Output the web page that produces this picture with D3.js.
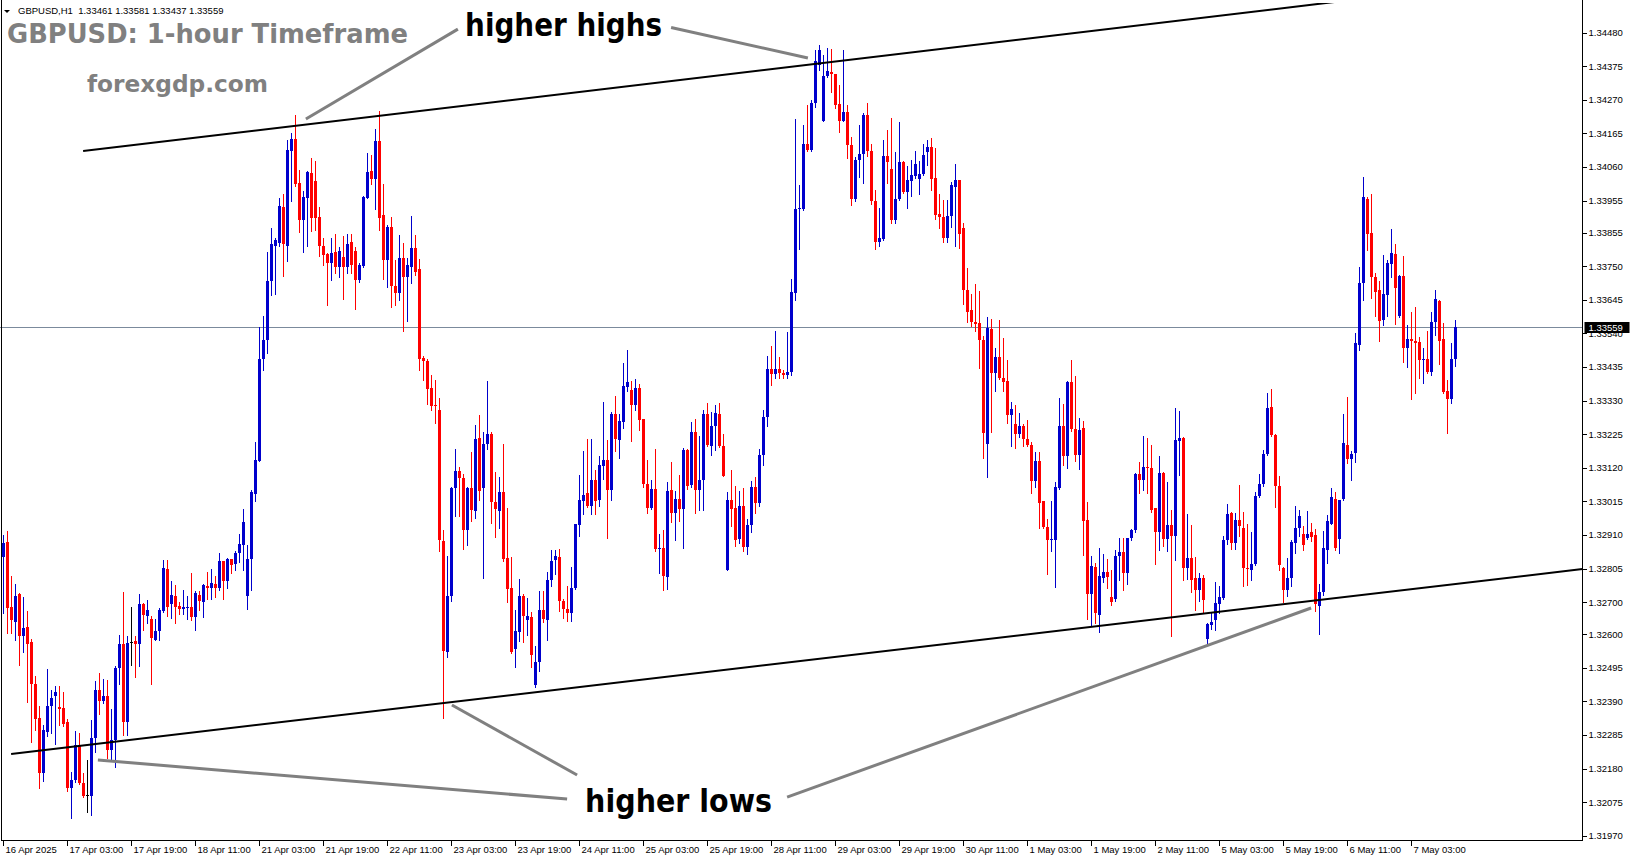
<!DOCTYPE html>
<html><head><meta charset="utf-8">
<script src="https://cdn.jsdelivr.net/npm/d3@7"></script>
<style>html,body{margin:0;padding:0;background:#fff;overflow:hidden}</style>
</head><body>
<svg id="chart" width="1631" height="861"></svg>
<script>
// ---------------- DATA ----------------
const symbolName = "GBPUSD,H1";
const lastBar = [1.33461, 1.33581, 1.33437, 1.33559];
const currentPrice = 1.33559;

const openP = [
1.32841,1.32888,1.32685,1.32637,1.32726,1.32596,1.32623,1.32576,1.32446,1.32339,
1.32165,1.32293,1.32375,1.32406,1.32372,1.32369,1.32327,1.32119,1.32144,1.32251,
1.32135,1.32098,1.32096,1.32275,1.32427,1.32392,1.32408,1.32239,1.32269,1.32493,
1.32570,1.32327,1.32577,1.32580,1.32570,1.32695,1.32657,1.32648,1.32583,1.32611,
1.32674,1.32804,1.32693,1.32720,1.32689,1.32680,1.32682,1.32686,1.32654,1.32723,
1.32702,1.32751,1.32745,1.32758,1.32743,1.32830,1.32766,1.32834,1.32819,1.32855,
1.32880,1.32718,1.32834,1.33037,1.33142,1.33459,1.33518,1.33703,1.33814,1.33822,
1.33936,1.33814,1.34110,1.34149,1.34010,1.33896,1.33964,1.34042,1.34017,1.33905,
1.33814,1.33788,1.33759,1.33793,1.33748,1.33778,1.33748,1.33826,1.33799,1.33706,
1.33750,1.33964,1.34048,1.34024,1.34140,1.33909,1.33770,1.33873,1.33689,1.33667,
1.33777,1.33716,1.33749,1.33808,1.33742,1.33463,1.33453,1.33369,1.33316,1.33300,
1.32891,1.32545,1.32718,1.33056,1.33111,1.33089,1.32925,1.33058,1.32986,1.33213,
1.33058,1.33196,1.33225,1.33012,1.32984,1.33043,1.32839,1.32745,1.32554,1.32607,
1.32720,1.32646,1.32655,1.32440,1.32512,1.32677,1.32646,1.32769,1.32832,1.32841,
1.32703,1.32680,1.32665,1.32743,1.32941,1.33015,1.33040,1.33000,1.33083,1.33021,
1.33125,1.33146,1.33050,1.33289,1.33208,1.33262,1.33374,1.33364,1.33315,1.33370,
1.33273,1.33071,1.32994,1.33055,1.32865,1.32871,1.32780,1.33052,1.32979,1.33024,
1.32990,1.33177,1.33065,1.33233,1.33050,1.33083,1.33289,1.33189,1.33252,1.33289,
1.33189,1.32802,1.33018,1.32993,1.32899,1.33002,1.32872,1.32940,1.33060,1.33010,
1.33160,1.33280,1.33430,1.33412,1.33428,1.33415,1.33410,1.33420,1.33666,1.33928,
1.33930,1.34133,1.34114,1.34259,1.34379,1.34203,1.34343,1.34357,1.34351,1.34257,
1.34205,1.34232,1.34130,1.33959,1.34081,1.34102,1.34222,1.34109,1.33953,1.33826,
1.33835,1.34095,1.34055,1.33894,1.33961,1.34075,1.33981,1.34016,1.34031,1.34023,
1.34038,1.34107,1.34124,1.34026,1.33914,1.33904,1.33839,1.33908,1.33999,1.34018,
1.33870,1.33675,1.33612,1.33577,1.33573,1.33521,1.33196,1.33554,1.33417,1.33467,
1.33402,1.33390,1.33286,1.33257,1.33225,1.33252,1.33209,1.33192,1.33080,1.33142,
1.33015,1.32936,1.32893,1.32895,1.33057,1.33250,1.33157,1.33388,1.33242,1.33161,
1.33246,1.32957,1.32726,1.32810,1.32660,1.32776,1.32793,1.32715,1.32709,1.32844,
1.32858,1.32790,1.32900,1.32925,1.33102,1.33081,1.33123,1.33120,1.32995,1.32919,
1.33104,1.32898,1.32942,1.32906,1.33204,1.33212,1.32806,1.32838,1.32775,1.32738,
1.32777,1.32584,1.32628,1.32646,1.32696,1.32713,1.32896,1.32979,1.32885,1.32956,
1.32933,1.32808,1.32802,1.32819,1.33031,1.33069,1.33162,1.33310,1.33222,1.33062,
1.32808,1.32738,1.32775,1.32885,1.32931,1.32912,1.32901,1.32918,1.32910,1.32687,
1.32731,1.32862,1.32945,1.33024,1.32897,1.33022,1.33192,1.33149,1.33165,1.33504,
1.33698,1.33960,1.33854,1.33717,1.33675,1.33583,1.33660,1.33758,1.33787,1.33596,
1.33719,1.33496,1.33523,1.33517,1.33513,1.33457,1.33461,1.33421,1.33575,1.33642,
1.33523,1.33361,1.33334,1.33461];

const highP = [
1.32910,1.32923,1.32782,1.32757,1.32730,1.32716,1.32673,1.32586,1.32471,1.32377,
1.32317,1.32492,1.32427,1.32437,1.32437,1.32420,1.32335,1.32169,1.32299,1.32291,
1.32167,1.32208,1.32333,1.32454,1.32479,1.32460,1.32458,1.32366,1.32502,1.32597,
1.32733,1.32593,1.32685,1.32593,1.32726,1.32697,1.32707,1.32656,1.32647,1.32681,
1.32832,1.32832,1.32767,1.32754,1.32701,1.32737,1.32720,1.32792,1.32734,1.32734,
1.32758,1.32794,1.32804,1.32781,1.32855,1.32830,1.32838,1.32836,1.32859,1.32912,
1.32990,1.32878,1.33050,1.33201,1.33560,1.33596,1.33795,1.33871,1.33839,1.33962,
1.33976,1.34145,1.34167,1.34224,1.34050,1.33985,1.34048,1.34088,1.34078,1.33934,
1.33837,1.33790,1.33837,1.33850,1.33810,1.33845,1.33850,1.33850,1.33810,1.33760,
1.33970,1.34105,1.34097,1.34180,1.34235,1.34007,1.33880,1.33904,1.33770,1.33849,
1.33823,1.33777,1.33906,1.33849,1.33773,1.33470,1.33459,1.33409,1.33396,1.33339,
1.32927,1.32845,1.33060,1.33179,1.33122,1.33100,1.33060,1.33168,1.33255,1.33286,
1.33231,1.33391,1.33233,1.33108,1.33091,1.33196,1.32994,1.32841,1.32677,1.32773,
1.32725,1.32712,1.32668,1.32563,1.32736,1.32736,1.32793,1.32863,1.32863,1.32867,
1.32710,1.32750,1.32809,1.32943,1.33099,1.33172,1.33211,1.33211,1.33114,1.33158,
1.33327,1.33208,1.33296,1.33345,1.33289,1.33447,1.33489,1.33391,1.33397,1.33381,
1.33273,1.33144,1.33081,1.33180,1.32912,1.32927,1.33077,1.33139,1.33049,1.33099,
1.33181,1.33180,1.33264,1.33272,1.33220,1.33302,1.33324,1.33296,1.33316,1.33324,
1.33227,1.33043,1.33114,1.33062,1.33049,1.33058,1.32960,1.33080,1.33090,1.33180,
1.33300,1.33470,1.33500,1.33549,1.33466,1.33425,1.33544,1.33709,1.34209,1.34005,
1.34190,1.34253,1.34271,1.34426,1.34442,1.34411,1.34433,1.34429,1.34351,1.34317,
1.34426,1.34255,1.34155,1.34090,1.34192,1.34228,1.34260,1.34132,1.33988,1.33932,
1.34144,1.34176,1.34213,1.34107,1.34201,1.34078,1.34062,1.34083,1.34111,1.34080,
1.34132,1.34144,1.34151,1.34118,1.33976,1.33956,1.33958,1.34014,1.34068,1.34020,
1.33885,1.33745,1.33662,1.33696,1.33673,1.33533,1.33592,1.33585,1.33494,1.33583,
1.33527,1.33458,1.33327,1.33315,1.33292,1.33257,1.33269,1.33200,1.33171,1.33171,
1.33015,1.32961,1.33015,1.33076,1.33338,1.33319,1.33390,1.33456,1.33406,1.33275,
1.33267,1.33013,1.32845,1.32824,1.32870,1.32851,1.32834,1.32802,1.32863,1.32901,
1.32901,1.32902,1.32930,1.33104,1.33137,1.33220,1.33213,1.33191,1.32995,1.33158,
1.33108,1.33075,1.32987,1.33308,1.33297,1.33215,1.32975,1.32942,1.32842,1.32792,
1.32786,1.32636,1.32671,1.32763,1.32752,1.32908,1.33008,1.32981,1.32979,1.33066,
1.32983,1.32944,1.32921,1.33046,1.33102,1.33177,1.33355,1.33366,1.33225,1.33093,
1.32810,1.32838,1.32896,1.33000,1.32989,1.32937,1.32984,1.32949,1.32930,1.32756,
1.32922,1.32972,1.33057,1.33043,1.33020,1.33288,1.33340,1.33174,1.33542,1.33748,
1.34029,1.33966,1.33977,1.33729,1.33704,1.33785,1.33771,1.33866,1.33821,1.33722,
1.33783,1.33567,1.33608,1.33623,1.33529,1.33496,1.33548,1.33608,1.33675,1.33645,
1.33573,1.33394,1.33511,1.33581];

const lowP = [
1.32666,1.32603,1.32603,1.32581,1.32503,1.32543,1.32387,1.32262,1.32302,1.32119,
1.32140,1.32281,1.32291,1.32258,1.32317,1.32314,1.32109,1.32025,1.32139,1.32133,
1.32092,1.32044,1.32035,1.32231,1.32352,1.32385,1.32212,1.32211,1.32185,1.32443,
1.32286,1.32286,1.32505,1.32467,1.32502,1.32614,1.32636,1.32446,1.32582,1.32583,
1.32668,1.32657,1.32651,1.32636,1.32662,1.32662,1.32647,1.32644,1.32614,1.32675,
1.32654,1.32711,1.32709,1.32716,1.32737,1.32709,1.32743,1.32792,1.32802,1.32827,
1.32802,1.32678,1.32737,1.33015,1.33142,1.33425,1.33478,1.33660,1.33662,1.33814,
1.33721,1.33765,1.33953,1.34002,1.33858,1.33793,1.33814,1.33860,1.33862,1.33782,
1.33753,1.33628,1.33706,1.33729,1.33715,1.33647,1.33729,1.33729,1.33615,1.33700,
1.33748,1.33962,1.34008,1.33930,1.33862,1.33709,1.33685,1.33624,1.33630,1.33643,
1.33549,1.33580,1.33698,1.33722,1.33426,1.33396,1.33319,1.33301,1.33260,1.32859,
1.32338,1.32528,1.32705,1.32970,1.32970,1.32867,1.32880,1.32955,1.32964,1.33019,
1.32777,1.33179,1.32948,1.32905,1.32933,1.32828,1.32701,1.32541,1.32497,1.32580,
1.32576,1.32598,1.32499,1.32436,1.32484,1.32637,1.32582,1.32751,1.32787,1.32672,
1.32650,1.32640,1.32640,1.32740,1.32906,1.32977,1.32998,1.32976,1.32975,1.33000,
1.33085,1.32902,1.33021,1.33172,1.33152,1.33243,1.33359,1.33203,1.33300,1.33239,
1.33060,1.32979,1.32990,1.32860,1.32790,1.32738,1.32742,1.32950,1.32896,1.32955,
1.32868,1.33053,1.33060,1.32978,1.32988,1.32988,1.33189,1.33160,1.33177,1.33185,
1.33094,1.32800,1.32938,1.32877,1.32886,1.32859,1.32850,1.32920,1.32980,1.33000,
1.33130,1.33250,1.33380,1.33400,1.33400,1.33400,1.33400,1.33410,1.33646,1.33805,
1.33927,1.34109,1.34110,1.34249,1.34362,1.34203,1.34340,1.34296,1.34246,1.34168,
1.34205,1.34088,1.33941,1.33955,1.34028,1.34009,1.34093,1.33945,1.33804,1.33812,
1.33833,1.34009,1.33885,1.33885,1.33956,1.33978,1.33932,1.33969,1.34026,1.33976,
1.34036,1.34065,1.33987,1.33899,1.33870,1.33827,1.33825,1.33874,1.33814,1.33808,
1.33631,1.33577,1.33562,1.33548,1.33433,1.33151,1.33090,1.33232,1.33359,1.33398,
1.33359,1.33261,1.33188,1.33182,1.33215,1.33188,1.33188,1.33040,1.33061,1.32932,
1.32932,1.32789,1.32859,1.32749,1.33055,1.33128,1.33119,1.33236,1.33140,1.33115,
1.32847,1.32649,1.32626,1.32635,1.32606,1.32764,1.32743,1.32690,1.32704,1.32771,
1.32738,1.32756,1.32895,1.32921,1.33041,1.33052,1.33041,1.32981,1.32821,1.32863,
1.32875,1.32860,1.32594,1.32833,1.33098,1.32771,1.32773,1.32731,1.32675,1.32704,
1.32667,1.32568,1.32615,1.32613,1.32667,1.32709,1.32883,1.32865,1.32865,1.32908,
1.32752,1.32754,1.32769,1.32817,1.33029,1.33064,1.33160,1.33220,1.32998,1.32800,
1.32702,1.32721,1.32752,1.32854,1.32907,1.32864,1.32897,1.32891,1.32672,1.32600,
1.32724,1.32824,1.32943,1.32862,1.32853,1.33020,1.33136,1.33082,1.33138,1.33488,
1.33646,1.33802,1.33652,1.33594,1.33515,1.33565,1.33596,1.33717,1.33571,1.33592,
1.33450,1.33436,1.33334,1.33355,1.33402,1.33384,1.33415,1.33409,1.33534,1.33446,
1.33353,1.33228,1.33323,1.33437];

const closeP = [
1.32886,1.32683,1.32643,1.32720,1.32596,1.32620,1.32571,1.32446,1.32336,1.32165,
1.32302,1.32377,1.32402,1.32420,1.32366,1.32321,1.32119,1.32146,1.32254,1.32135,
1.32096,1.32098,1.32277,1.32427,1.32392,1.32408,1.32237,1.32269,1.32495,1.32570,
1.32327,1.32573,1.32577,1.32570,1.32695,1.32661,1.32675,1.32587,1.32611,1.32677,
1.32807,1.32685,1.32722,1.32685,1.32680,1.32685,1.32686,1.32654,1.32728,1.32705,
1.32754,1.32745,1.32760,1.32743,1.32830,1.32766,1.32834,1.32815,1.32855,1.32882,
1.32950,1.32834,1.33043,1.33145,1.33461,1.33520,1.33705,1.33820,1.33831,1.33938,
1.33818,1.34112,1.34149,1.34006,1.33896,1.33966,1.34044,1.33900,1.33902,1.33812,
1.33786,1.33759,1.33791,1.33748,1.33799,1.33748,1.33818,1.33755,1.33706,1.33755,
1.33966,1.34046,1.34023,1.34140,1.33902,1.33770,1.33873,1.33689,1.33667,1.33777,
1.33716,1.33755,1.33808,1.33733,1.33461,1.33453,1.33365,1.33314,1.33312,1.32896,
1.32549,1.32720,1.33058,1.33111,1.33087,1.32927,1.33056,1.32988,1.33211,1.33049,
1.33196,1.33227,1.33012,1.32990,1.33043,1.32834,1.32740,1.32545,1.32609,1.32720,
1.32657,1.32657,1.32534,1.32512,1.32677,1.32648,1.32771,1.32828,1.32844,1.32703,
1.32680,1.32665,1.32745,1.32943,1.33018,1.33036,1.33000,1.33083,1.33015,1.33130,
1.33146,1.33050,1.33289,1.33211,1.33265,1.33376,1.33387,1.33315,1.33370,1.33270,
1.33069,1.32994,1.33055,1.32865,1.32871,1.32782,1.33049,1.32979,1.33024,1.32990,
1.33177,1.33062,1.33231,1.33052,1.33083,1.33289,1.33191,1.33252,1.33292,1.33187,
1.33096,1.33018,1.32990,1.32896,1.33002,1.32872,1.32940,1.33060,1.33010,1.33160,
1.33280,1.33430,1.33412,1.33428,1.33415,1.33410,1.33418,1.33668,1.33930,1.33933,
1.34133,1.34114,1.34261,1.34392,1.34426,1.34345,1.34361,1.34350,1.34255,1.34205,
1.34232,1.34128,1.33959,1.34083,1.34102,1.34222,1.34109,1.33953,1.33826,1.33837,
1.34095,1.34075,1.33894,1.33961,1.34075,1.33981,1.34021,1.34036,1.34071,1.34039,
1.34099,1.34124,1.34024,1.33910,1.33904,1.33839,1.33908,1.34004,1.34018,1.33852,
1.33675,1.33608,1.33575,1.33569,1.33519,1.33228,1.33558,1.33417,1.33467,1.33402,
1.33388,1.33284,1.33304,1.33225,1.33252,1.33209,1.33192,1.33080,1.33142,1.33011,
1.32936,1.32893,1.32899,1.33059,1.33252,1.33157,1.33388,1.33240,1.33161,1.33238,
1.32955,1.32726,1.32812,1.32666,1.32782,1.32793,1.32778,1.32700,1.32846,1.32858,
1.32790,1.32900,1.32927,1.33102,1.33081,1.33123,1.33118,1.32989,1.32919,1.33104,
1.32898,1.32942,1.32906,1.33206,1.33212,1.32806,1.32838,1.32771,1.32738,1.32777,
1.32707,1.32631,1.32638,1.32698,1.32715,1.32896,1.32977,1.32885,1.32956,1.32937,
1.32806,1.32806,1.32821,1.33031,1.33071,1.33164,1.33308,1.33222,1.33062,1.32817,
1.32738,1.32777,1.32887,1.32933,1.32969,1.32878,1.32912,1.32905,1.32693,1.32731,
1.32868,1.32953,1.33028,1.32868,1.33018,1.33199,1.33149,1.33163,1.33511,1.33698,
1.33966,1.33852,1.33717,1.33671,1.33579,1.33662,1.33760,1.33791,1.33683,1.33719,
1.33496,1.33523,1.33517,1.33509,1.33457,1.33461,1.33419,1.33575,1.33648,1.33517,
1.33357,1.33336,1.33461,1.33559];

// time axis labels: [bar index, text]
const timeLabelIdx = [0,16,32,48,64,80,96,112,128,144,160,176,192,208,224,240,256,272,288,304,320,336,352];
const timeLabelTxt = ["16 Apr 2025","17 Apr 03:00","17 Apr 19:00","18 Apr 11:00","21 Apr 03:00","21 Apr 19:00",
  "22 Apr 11:00","23 Apr 03:00","23 Apr 19:00","24 Apr 11:00","25 Apr 03:00","25 Apr 19:00","28 Apr 11:00",
  "29 Apr 03:00","29 Apr 19:00","30 Apr 11:00","1 May 03:00","1 May 19:00","2 May 11:00","5 May 03:00",
  "5 May 19:00","6 May 11:00","7 May 03:00"];

const priceTicks = [1.34480,1.34375,1.34270,1.34165,1.34060,1.33955,1.33855,1.33750,1.33645,1.33540,
  1.33435,1.33330,1.33225,1.33120,1.33015,1.32910,1.32805,1.32700,1.32600,1.32495,1.32390,1.32285,
  1.32180,1.32075,1.31970];

// channel trend lines (rays): [barIndex, price] anchor pairs
const upperLine = [[19.9, 1.34110], [332.9, 1.34576]];
const lowerLine = [[1.9, 1.32226], [326.9, 1.32704]];

// grey pointer lines: [barIndex, price] pairs
const pointerLines = [
  [[113.6, 1.34491], [75.6, 1.34210]],
  [[166.9, 1.34496], [201.1, 1.34401]],
  [[112.1, 1.32379], [143.4, 1.32160]],
  [[23.6, 1.32207], [140.9, 1.32085]],
  [[195.9, 1.32091], [326.9, 1.32682]]
];
// annotation words: [barIndex, price, text]
const annotations = [[115.4, 1.34468, "higher highs"], [145.4, 1.32045, "higher lows"]];

// ---------------- DRAW ----------------
const svg = d3.select('#chart');
const plotTop = 3, plotRight = 1582.5, plotBottom = 840.5;
const n = openP.length;
const x = d3.scaleLinear().domain([0, n - 1]).range([3.5, 3.5 + 4 * (n - 1)]);
const y = d3.scaleLinear().domain([1.31970, 1.34480]).range([835.84, 32.64]);

svg.append('rect').attr('width',1631).attr('height',861).attr('fill','#fff');
svg.append('defs').append('clipPath').attr('id','plot')
  .append('rect').attr('x',0).attr('y',plotTop).attr('width',plotRight).attr('height',plotBottom - plotTop);

const plot = svg.append('g').attr('clip-path','url(#plot)');

// current price line
plot.append('line').attr('x1',0).attr('x2',plotRight)
  .attr('y1', Math.round(y(currentPrice))+0.5).attr('y2', Math.round(y(currentPrice))+0.5)
  .attr('stroke','#7b8a9c').attr('stroke-width',1).attr('shape-rendering','crispEdges');

const BULL = '#0000cc', BEAR = '#ff0000', DOJI = '#000000';
const colorOf = i => closeP[i] > openP[i] ? BULL : (closeP[i] < openP[i] ? BEAR : DOJI);
const idx = d3.range(n);

const candles = plot.append('g').attr('shape-rendering','crispEdges');
candles.selectAll('line.wick').data(idx).join('line').attr('class','wick')
  .attr('x1', i => x(i)).attr('x2', i => x(i))
  .attr('y1', i => Math.round(y(highP[i])))
  .attr('y2', i => Math.round(y(lowP[i])) + 1)
  .attr('stroke', colorOf).attr('stroke-width', 1);
candles.selectAll('rect.body').data(idx).join('rect').attr('class','body')
  .attr('x', i => x(i) - 1.5).attr('width', 3)
  .attr('y', i => Math.round(y(Math.max(openP[i], closeP[i]))))
  .attr('height', i => Math.max(1, Math.round(y(Math.min(openP[i], closeP[i]))) - Math.round(y(Math.max(openP[i], closeP[i])))))
  .attr('fill', colorOf);

// channel rays
function rayEnd(a, b) {
  const x1 = x(a[0]), y1 = y(a[1]), x2 = x(b[0]), y2 = y(b[1]);
  const s = (y2 - y1) / (x2 - x1);
  return [x1, y1, plotRight, y1 + s * (plotRight - x1)];
}
[upperLine, lowerLine].forEach(l => {
  const r = rayEnd(l[0], l[1]);
  plot.append('line').attr('x1', r[0]).attr('y1', r[1]).attr('x2', r[2]).attr('y2', r[3])
    .attr('stroke', '#000').attr('stroke-width', 2);
});

// pointer lines
plot.selectAll('line.ptr').data(pointerLines).join('line').attr('class','ptr')
  .attr('x1', d => x(d[0][0])).attr('y1', d => y(d[0][1]))
  .attr('x2', d => x(d[1][0])).attr('y2', d => y(d[1][1]))
  .attr('stroke', '#808080').attr('stroke-width', 3);

// annotation words
svg.selectAll('text.ann').data(annotations).join('text').attr('class','ann')
  .attr('x', d => x(d[0])).attr('y', d => y(d[1]))
  .attr('font-family','DejaVu Sans, Verdana, sans-serif').attr('font-weight','bold')
  .attr('font-size', 32).attr('fill','#000')
  .attr('textLength', (d, k) => k === 0 ? 197 : 187).attr('lengthAdjust','spacingAndGlyphs')
  .text(d => d[2]);

// frame
const frame = svg.append('g').attr('stroke','#000').attr('stroke-width',1).attr('shape-rendering','crispEdges');
frame.append('line').attr('x1',1.5).attr('x2',1.5).attr('y1',0).attr('y2',plotBottom);
frame.append('line').attr('x1',plotRight).attr('x2',plotRight).attr('y1',0).attr('y2',plotBottom);
frame.append('line').attr('x1',1).attr('x2',plotRight).attr('y1',plotBottom).attr('y2',plotBottom);

// price axis
const pa = svg.append('g');
pa.selectAll('line').data(priceTicks).join('line')
  .attr('x1', plotRight).attr('x2', plotRight + 4)
  .attr('y1', d => Math.round(y(d)) + 0.5).attr('y2', d => Math.round(y(d)) + 0.5)
  .attr('stroke','#000').attr('shape-rendering','crispEdges');
pa.selectAll('text').data(priceTicks).join('text')
  .attr('x', plotRight + 6).attr('y', d => y(d)).attr('dy','0.35em')
  .attr('font-family','Liberation Sans, Arial, sans-serif').attr('font-size', 9.5).attr('fill','#000')
  .text(d => d.toFixed(5));

// current price tag
svg.append('rect').attr('x', plotRight + 2).attr('y', Math.round(y(currentPrice)) - 5)
  .attr('width', 45).attr('height', 11).attr('fill','#000');
svg.append('text').attr('x', plotRight + 6).attr('y', y(currentPrice)).attr('dy','0.38em')
  .attr('font-family','Liberation Sans, Arial, sans-serif').attr('font-size', 9.5).attr('fill','#fff')
  .text(currentPrice.toFixed(5));

// time axis
const ta = svg.append('g');
ta.selectAll('line').data(timeLabelIdx).join('line')
  .attr('x1', d => x(d)).attr('x2', d => x(d)).attr('y1', plotBottom).attr('y2', plotBottom + 5)
  .attr('stroke','#000').attr('shape-rendering','crispEdges');
ta.selectAll('text').data(timeLabelIdx).join('text')
  .attr('x', d => x(d) + 2).attr('y', 850).attr('dy','0.35em')
  .attr('font-family','Liberation Sans, Arial, sans-serif').attr('font-size', 9.5).attr('fill','#000')
  .text((d, k) => timeLabelTxt[k]);

// header
svg.append('path').attr('d','M4,10 L10,10 L7,13 Z').attr('fill','#000');
svg.append('text').attr('x', 18).attr('y', 14).style('white-space','pre')
  .attr('font-family','Liberation Sans, Arial, sans-serif').attr('font-size', 9.5).attr('fill','#000')
  .text(symbolName + '  ' + lastBar.map(v => v.toFixed(5)).join(' '));

svg.append('text').attr('x', 7).attr('y', 43)
  .attr('font-family','DejaVu Sans, Verdana, sans-serif').attr('font-weight','bold').attr('font-size', 26.5)
  .attr('fill','#808080').attr('textLength', 401).attr('lengthAdjust','spacingAndGlyphs')
  .text('GBPUSD: 1-hour Timeframe');
svg.append('text').attr('x', 87).attr('y', 92)
  .attr('font-family','DejaVu Sans, Verdana, sans-serif').attr('font-weight','bold').attr('font-size', 23)
  .attr('fill','#808080').attr('textLength', 181).attr('lengthAdjust','spacingAndGlyphs')
  .text('forexgdp.com');
</script>
</body></html>
